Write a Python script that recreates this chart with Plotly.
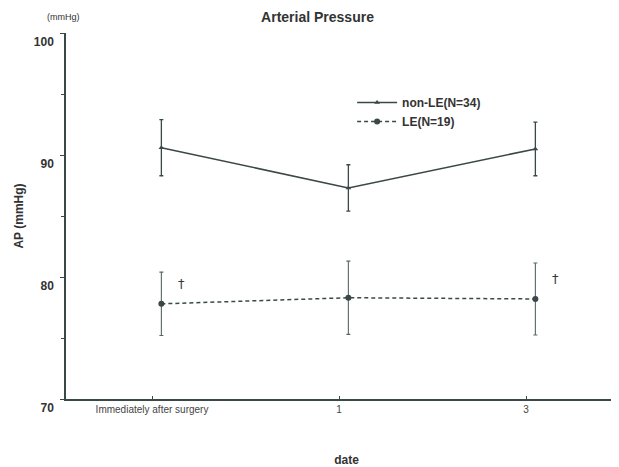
import plotly.graph_objects as go

categories = ["Immediately after surgery", "1", "3"]
nonle_mean = [90.6, 87.3, 90.5]
nonle_err = [2.3, 1.9, 2.2]
le_mean = [77.8, 78.3, 78.2]
le_err = [2.6, 3.0, 2.95]
dagger_idx = [0, 2]
y_ticks = [70, 80, 90, 100]

ink = "#3b4848"
font = "Liberation Sans, Arial, sans-serif"

pos = list(range(len(categories)))
xpts = [p + 0.05 for p in pos]

fig = go.Figure()
fig.add_trace(go.Scatter(
    x=xpts, y=nonle_mean, mode="lines+markers", name="non-LE(N=34)",
    line=dict(color=ink, width=1.5),
    marker=dict(symbol="triangle-up", size=5, color=ink),
    error_y=dict(type="data", array=nonle_err, color=ink, thickness=1.3, width=2),
))
fig.add_trace(go.Scatter(
    x=xpts, y=le_mean, mode="lines+markers", name="LE(N=19)",
    line=dict(color=ink, width=1.5, dash="4px,3px"),
    marker=dict(symbol="circle", size=6, color=ink),
    error_y=dict(type="data", array=le_err, color="#5a6666", thickness=1.1, width=2),
))

for i in dagger_idx:
    fig.add_annotation(x=xpts[i], y=le_mean[i], text="†", showarrow=False,
                       xshift=20, yshift=20, font=dict(family="DejaVu Sans", size=13, color="#2f3a3a"))

fig.add_annotation(x=-0.005, y=1.0, xref="paper", yref="paper", xanchor="center", yanchor="bottom",
                   yshift=9, text="(mmHg)", showarrow=False,
                   font=dict(family=font, size=9, color="#333"))

# page body has an 8px margin: shrink the figure so the plot lands where the reference has it
fig.update_layout(
    width=619, height=459,
    margin=dict(l=58, r=0, t=25, b=68, autoexpand=False),
    paper_bgcolor="white", plot_bgcolor="white",
    title=dict(text="<b>Arterial Pressure</b>", x=0.5, xanchor="center", y=0.98, yanchor="middle",
               font=dict(family=font, size=14, color="#333")),
    font=dict(family=font, color="#333"),
    legend=dict(x=0.51, y=0.85, xanchor="left", yanchor="top", bgcolor="rgba(0,0,0,0)",
                font=dict(family=font, size=12, color="#333", weight="bold"),
                tracegroupgap=0, itemwidth=40),
    showlegend=True,
)
fig.update_xaxes(
    range=[-0.46, 2.54], tickvals=pos, ticktext=categories, automargin=False,
    showline=True, linecolor=ink, linewidth=1.5, showgrid=False, zeroline=False,
    ticks="inside", ticklen=3, tickcolor=ink,
    tickfont=dict(family=font, size=10, color="#444"),
    title=dict(text="<b>date</b>", font=dict(family=font, size=12, color="#333"), standoff=45),
)
fig.update_yaxes(
    range=[70, 100], tickvals=y_ticks, automargin=False,
    showline=True, linecolor=ink, linewidth=1.5, showgrid=False, zeroline=False,
    ticks="outside", ticklen=4, tickcolor=ink,
    minor=dict(dtick=5, ticks="outside", ticklen=3, tickcolor=ink),
    ticklabelshift=9, ticklabelstandoff=4,
    tickfont=dict(family=font, size=12, color="#333", weight="bold"),
    title=dict(text="<b>AP (mmHg)</b>", font=dict(family=font, size=12, color="#333"), standoff=8),
)

fig.write_html("out.html")
